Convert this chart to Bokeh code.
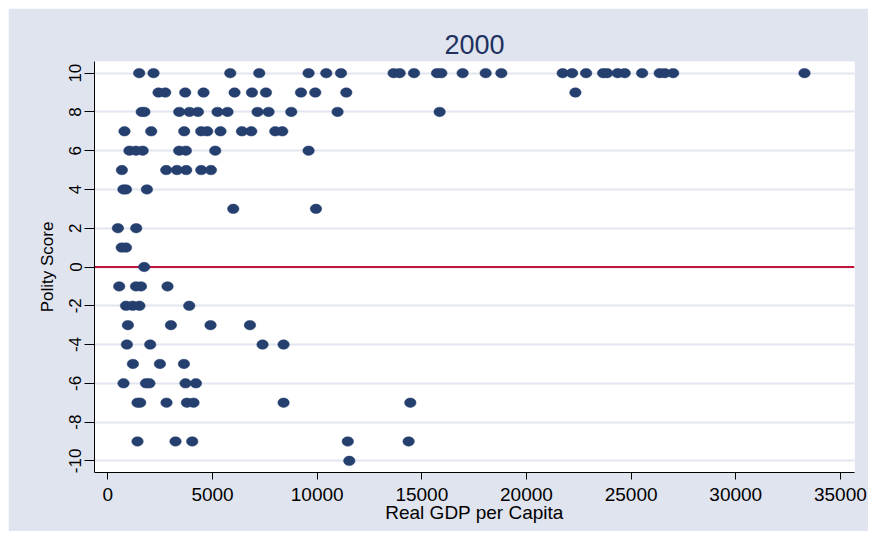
from bokeh.plotting import figure
from bokeh.models import Range1d, FixedTicker, Span, ColumnDataSource
from bokeh.embed import file_html
from bokeh.resources import INLINE

# ---- data ----
gdp_per_capita = [
    1496, 2180, 5846, 7232, 9589, 10435, 11138, 13652, 13939, 14627, 15727, 15932, 16950,
    18050, 18800, 21730, 22180, 22849, 23662, 23853, 24359, 24694, 25526, 26367, 26606, 27008, 33284,
    2419, 2739, 3695, 4570, 6052, 6883, 7553, 9226, 9909, 11391, 22338,
    1616, 1745, 3408, 3901, 4302, 5239, 5717, 7151, 7677, 8762, 10975, 15851,
    793, 2070, 3647, 4460, 4747, 5382, 6405, 6850, 7997, 8332,
    1028, 1343, 1663, 3408, 3728, 5129, 9589,
    669, 2787, 3298, 3743, 4460, 4924,
    741, 865, 1864,
    5990, 9943,
    478, 1353,
    660, 865,
    1735,
    540, 1343, 1582, 2849,
    865, 1185, 1506, 3886,
    956, 3011, 4904, 6788,
    908, 2022, 7390, 8394,
    1195, 2486, 3633,
    746, 1821, 1984, 3709, 4207,
    1415, 1544, 2801, 3776, 4092, 8394, 14450,
    1415, 3231, 4030, 11463, 14369,
    11534,
]
polity_score = (
    [10] * 27 + [9] * 11 + [8] * 12 + [7] * 10 + [6] * 7 + [5] * 6 + [4] * 3 + [3] * 2
    + [2] * 2 + [1] * 2 + [0] * 1 + [-1] * 4 + [-2] * 4 + [-3] * 4 + [-4] * 4 + [-5] * 3
    + [-6] * 5 + [-7] * 7 + [-9] * 5 + [-10] * 1
)

x_ticks = [0, 5000, 10000, 15000, 20000, 25000, 30000, 35000]
x_tick_labels = ["0", "5000", "10000", "15000", "20000", "25000", "30000", "35000"]
y_ticks = [-10, -8, -6, -4, -2, 0, 2, 4, 6, 8, 10]
y_tick_labels = ["-10", "-8", "-6", "-4", "-2", "0", "2", "4", "6", "8", "10"]

title_text = "2000"
x_label = "Real GDP per Capita"
y_label = "Polity Score"

FONT = "Liberation Sans"
BG = "#E0E4EF"
NAVY = "#253F6F"

p = figure(
    width=860, height=523, output_backend="svg", toolbar_location=None,
    x_range=Range1d(-640, 35674), y_range=Range1d(-10.6, 10.6),
    min_border_left=86, min_border_right=14, min_border_top=53, min_border_bottom=59,
    background_fill_color="white", border_fill_color=BG, outline_line_color=None,
    title=title_text,
)
p.margin = (8, 8, 8, 8)

p.title.align = "center"
p.title.text_font = FONT
p.title.text_font_size = "27px"
p.title.text_font_style = "normal"
p.title.text_color = "#1E3160"
p.title.standoff = 16

# grid
p.xgrid.grid_line_color = None
p.ygrid.ticker = FixedTicker(ticks=y_ticks)
p.ygrid.grid_line_color = "#E1E6F0"
p.ygrid.grid_line_width = 2

# x axis
p.xaxis.ticker = FixedTicker(ticks=x_ticks)
p.xaxis.major_label_overrides = {t: s for t, s in zip(x_ticks, x_tick_labels)}
p.xaxis.major_tick_out = 7
p.xaxis.major_tick_in = 0
p.xaxis.minor_tick_line_color = None
p.xaxis.major_label_text_font = FONT
p.xaxis.major_label_text_font_size = "19px"
p.xaxis.major_label_text_color = "black"
p.xaxis.major_label_standoff = 8
p.xaxis.axis_label = x_label
p.xaxis.axis_label_text_font = FONT
p.xaxis.axis_label_text_font_size = "19px"
p.xaxis.axis_label_text_font_style = "normal"
p.xaxis.axis_label_text_color = "black"
p.xaxis.axis_label_standoff = -2
p.xaxis.axis_line_color = "black"
p.xaxis.major_tick_line_color = "black"

# y axis
p.yaxis.ticker = FixedTicker(ticks=y_ticks)
p.yaxis.major_label_overrides = {t: s for t, s in zip(y_ticks, y_tick_labels)}
p.yaxis.major_label_orientation = "vertical"
p.yaxis.major_tick_out = 10
p.yaxis.major_tick_in = 0
p.yaxis.minor_tick_line_color = None
p.yaxis.major_label_text_font = FONT
p.yaxis.major_label_text_font_size = "17px"
p.yaxis.major_label_text_color = "black"
p.yaxis.major_label_standoff = 3
p.yaxis.axis_label = y_label
p.yaxis.axis_label_text_font = FONT
p.yaxis.axis_label_text_font_size = "17px"
p.yaxis.axis_label_text_font_style = "normal"
p.yaxis.axis_label_text_color = "black"
p.yaxis.axis_label_standoff = 10
p.yaxis.axis_line_color = "black"
p.yaxis.major_tick_line_color = "black"

zero_line = Span(location=0, dimension="width", line_color="#C4123F", line_width=2, level="underlay")
p.add_layout(zero_line)

src = ColumnDataSource(data=dict(gdp=gdp_per_capita, polity=polity_score))
p.ellipse(x="gdp", y="polity", width=11.5, height=9.5, width_units="screen", height_units="screen",
          source=src, fill_color=NAVY, line_color=NAVY, line_width=0.5)

open("out.html", "w").write(file_html(p, INLINE))
